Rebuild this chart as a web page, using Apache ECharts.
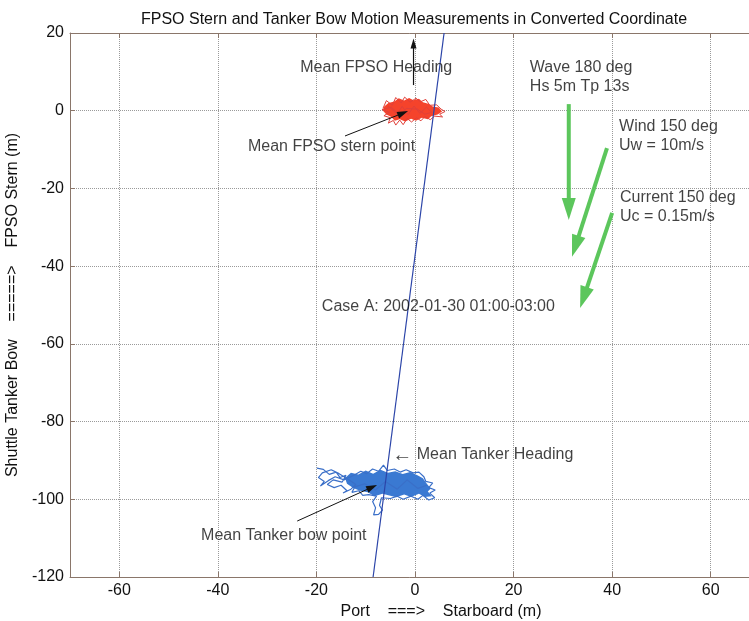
<!DOCTYPE html>
<html><head><meta charset="utf-8">
<script src="https://cdn.jsdelivr.net/npm/echarts@6/dist/echarts.min.js"></script>
<style>html,body{margin:0;padding:0;background:#fff}#c{width:749px;height:621px}</style>
</head><body><div id="c"></div>
<script>
// ---- data ----
const headingLineX = [-8.5, 5.9];
const headingLineY = [-120, 20];

const fpsoMean = [-1.4, -0.1];
const tankerMean = [-7.7, -96.3];

// dense core of FPSO stern trace (outline)
const fpsoCoreX = [-6.3,-5.4,-4.2,-3.3,-2.2,-1.2,-0.3,0.8,1.6,2.7,3.6,4.8,5.5,4.6,3.3,2.6,1.4,0.2,-0.8,-2.0,-3.1,-4.1,-4.8,-5.8,-6.5];
const fpsoCoreY = [1.0,2.0,2.4,3.2,2.6,3.3,2.7,3.1,2.2,1.8,1.1,0.8,-0.2,-1.0,-1.4,-2.2,-1.8,-2.6,-2.1,-2.8,-2.2,-2.6,-1.6,-1.0,0.0];
// FPSO stern trace (wandering path)
const fpsoTraceX = [-6.5,-5.8,-4.6,-3.9,-2.8,-2.1,-1.0,0.2,1.1,2.2,3.0,4.4,5.3,6.1,5.0,5.6,4.0,3.1,2.0,1.2,0.3,-0.7,-1.6,-2.4,-3.1,-3.9,-4.4,-5.4,-5.0,-6.3,-5.2,-6.7,-4.8,-3.5,-2.6,-1.4,-0.2,1.0,2.3,3.4,2.0,0.5,-1.8,-3.2,-4.5,-5.5];
const fpsoTraceY = [0.6,2.6,1.4,3.4,2.0,3.5,2.2,3.2,2.3,2.9,1.4,1.5,0.4,-0.2,-0.9,-1.6,-1.4,-2.3,-1.5,-2.6,-1.8,-2.9,-2.0,-3.6,-2.4,-3.7,-2.5,-3.2,-1.8,-1.3,-0.4,0.3,0.9,-0.6,1.1,-1.0,1.2,-0.7,0.9,-0.4,-0.9,0.4,0.6,-1.5,0.2,1.2];

// dense core of tanker bow trace (outline)
const tankerCoreX = [-14.2,-13.0,-11.5,-10.0,-8.5,-7.0,-5.5,-4.0,-2.5,-1.0,0.5,1.6,2.4,3.2,2.6,3.4,2.0,0.8,-0.8,-2.2,-3.8,-5.2,-6.6,-8.2,-9.6,-11.2,-12.6,-13.8];
const tankerCoreY = [-94.5,-93.2,-93.6,-92.6,-93.4,-92.4,-93.2,-92.8,-93.5,-93.0,-93.8,-94.6,-96.0,-97.2,-98.0,-99.2,-99.4,-98.6,-99.4,-98.8,-99.5,-99.0,-98.6,-99.2,-98.2,-97.8,-97.0,-96.0];
// tanker bow trace (wandering path)
const tankerTraceX = [-19.9,-18.6,-17.4,-16.0,-15.2,-14.0,-14.8,-16.6,-17.8,-16.4,-15.0,-13.8,-14.6,-13.0,-12.0,-13.4,-15.4,-17.0,-18.8,-19.6,-18.4,-19.2,-17.6,-16.2,-14.4,-12.4,-11.0,-9.8,-8.6,-7.4,-6.4,-5.6,-4.2,-3.0,-1.8,-0.4,0.8,1.8,2.2,3.6,2.8,4.1,3.0,4.0,2.8,1.6,0.6,-0.8,-2.4,-3.6,-5.0,-6.8,-7.2,-6.6,-7.4,-8.4,-8.0,-8.6,-7.8,-9.4,-10.6,-11.4,-12.8,-12.2,-10.2,-8.0,-6.0,-3.6,-1.6,0.6,2.4];
const tankerTraceY = [-92.0,-92.3,-93.6,-93.0,-94.4,-93.8,-95.6,-95.0,-96.2,-97.0,-96.4,-97.8,-98.4,-97.4,-96.2,-95.0,-93.4,-92.4,-93.2,-94.4,-95.4,-96.6,-95.2,-94.2,-95.0,-93.8,-92.8,-93.4,-92.2,-92.8,-91.2,-92.6,-92.2,-93.0,-92.4,-93.2,-93.0,-94.2,-95.4,-95.8,-97.0,-97.6,-98.4,-99.6,-100.2,-99.0,-100.0,-99.2,-100.0,-99.2,-99.8,-99.6,-101.6,-102.8,-103.9,-104.0,-102.2,-100.6,-99.2,-98.8,-99.0,-97.8,-98.2,-96.8,-96.0,-97.6,-95.4,-97.4,-95.0,-97.2,-96.4];

// heading arrow of FPSO [x0, y0, xTip, yTip]
const fpsoHeadingArrow = [-0.3, 6.6, -0.3, 18.6];

// environment arrows: [x0, y0, xTip, yTip]
const waveArrow = [31.2, 1.7, 31.2, -28.1];
const windArrow = [38.95, -9.6, 31.85, -37.6];
const currentArrow = [40.0, -26.3, 33.5, -50.8];

// annotation pointers start (near text) -> mean points
const fpsoPointerStart = [-14.2, -6.5];
const tankerPointerStart = [-23.9, -105.6];
</script>
<script>
const FONT = 'Liberation Sans, Arial, sans-serif';
const chart = echarts.init(document.getElementById('c'), null, {renderer: 'canvas'});

const pairs = (xs, ys) => xs.map((x, i) => [x, ys[i]]);
function poly(xs, ys, color) {
  return {
    type: 'custom', coordinateSystem: 'cartesian2d', silent: true, z: 2,
    data: [[xs[0], ys[0]]],
    renderItem: (params, api) => ({
      type: 'polygon',
      shape: {points: xs.map((x, i) => api.coord([x, ys[i]]))},
      style: {fill: color}
    })
  };
}
function trace(xs, ys, color, w) {
  return {type: 'line', data: pairs(xs, ys), showSymbol: false, symbol: 'none', silent: true, z: 3,
    lineStyle: {color: color, width: w}, animation: false};
}
function arrows(list, color, width, headW, headL) {
  return {
    type: 'custom', coordinateSystem: 'cartesian2d', silent: true, z: 5,
    dimensions: ['x0', 'y0', 'x1', 'y1'], encode: {x: [0, 2], y: [1, 3]},
    data: list,
    renderItem: (params, api) => {
      const p0 = api.coord([api.value(0), api.value(1)]);
      const p1 = api.coord([api.value(2), api.value(3)]);
      const dx = p1[0] - p0[0], dy = p1[1] - p0[1], L = Math.hypot(dx, dy);
      const ux = dx / L, uy = dy / L;
      const bx = p1[0] - ux * headL, by = p1[1] - uy * headL;
      const hw = headW / 2;
      return {type: 'group', children: [
        {type: 'line', shape: {x1: p0[0], y1: p0[1], x2: bx + ux, y2: by + uy},
          style: {stroke: color, lineWidth: width}},
        {type: 'polygon', shape: {points: [[p1[0], p1[1]], [bx - uy * hw, by + ux * hw], [bx + uy * hw, by - ux * hw]]},
          style: {fill: color}}
      ]};
    }
  };
}

const labels = [
  {value: [-23.3, 11.0], name: 'Mean FPSO Heading'},
  {value: [-33.9, -9.3], name: 'Mean FPSO stern point'},
  {value: [-43.4, -109.4], name: 'Mean Tanker bow point'},
  {value: [-4.6, -88.6], name: '{a|\u2190} Mean Tanker Heading'},
  {value: [-18.9, -50.3], name: 'Case A: 2002-01-30 01:00-03:00'},
  {value: [23.3, 8.55], name: 'Wave 180 deg\nHs 5m Tp 13s'},
  {value: [41.4, -6.5], name: 'Wind 150 deg\nUw = 10m/s'},
  {value: [41.6, -24.9], name: 'Current 150 deg\nUc = 0.15m/s'}
];

const axisColor = '#8a766a';
const option = {
  animation: false,
  backgroundColor: '#ffffff',
  title: {
    text: 'FPSO Stern and Tanker Bow Motion Measurements in Converted Coordinate',
    left: 409, top: 7, textAlign: 'center',
    textStyle: {fontFamily: FONT, fontSize: 16, fontWeight: 'normal', color: '#111'}
  },
  grid: {left: 70, top: 33, width: 690, height: 544, containLabel: false, outerBoundsMode: 'none'},
  xAxis: [{
    type: 'value', min: -70, max: 70, minInterval: 20, maxInterval: 20, splitNumber: 7,
    name: 'Port    ===>    Starboard (m)', nameLocation: 'middle', nameGap: 27,
    nameTextStyle: {fontFamily: FONT, fontSize: 16, color: '#111', padding: [0, 0, 0, 52]},
    axisLine: {show: true, onZero: false, lineStyle: {color: axisColor, width: 1}},
    axisTick: {show: true, inside: true, length: 5, lineStyle: {color: axisColor}},
    axisLabel: {fontFamily: FONT, fontSize: 16, color: '#111', margin: 6, showMinLabel: false, showMaxLabel: false},
    splitLine: {show: true, lineStyle: {type: 'dotted', color: '#9a9a9a', width: 1}}
  }, {
    type: 'value', position: 'top', min: -70, max: 70, minInterval: 20, maxInterval: 20, splitNumber: 7,
    axisLine: {show: true, onZero: false, lineStyle: {color: axisColor, width: 1}},
    axisTick: {show: true, inside: true, length: 5, lineStyle: {color: axisColor}},
    axisLabel: {show: false}, splitLine: {show: false}
  }],
  yAxis: [{
    type: 'value', min: -120, max: 20, interval: 20,
    name: 'Shuttle Tanker Bow    =====>    FPSO Stern (m)', nameLocation: 'middle', nameGap: 48,
    nameTextStyle: {fontFamily: FONT, fontSize: 16, color: '#111'},
    axisLine: {show: true, onZero: false, lineStyle: {color: axisColor, width: 1}},
    axisTick: {show: true, inside: true, length: 5, lineStyle: {color: axisColor}},
    axisLabel: {fontFamily: FONT, fontSize: 16, color: '#111', margin: 6},
    splitLine: {show: true, lineStyle: {type: 'dotted', color: '#9a9a9a', width: 1}}
  }],
  series: [
    poly(fpsoCoreX, fpsoCoreY, '#f5432b'),
    trace(fpsoTraceX, fpsoTraceY, '#e0403a', 1),
    poly(tankerCoreX, tankerCoreY, '#3a79d2'),
    trace(tankerTraceX, tankerTraceY, '#3a6fc8', 1.2),
    {type: 'line', data: pairs(headingLineX, headingLineY), showSymbol: false, symbol: 'none', silent: true, z: 4,
      lineStyle: {color: '#2b44a8', width: 1.2}},
    arrows([fpsoHeadingArrow], '#111111', 1.2, 6, 10),
    arrows([[fpsoPointerStart[0], fpsoPointerStart[1], fpsoMean[0], fpsoMean[1]],
            [tankerPointerStart[0], tankerPointerStart[1], tankerMean[0], tankerMean[1]]], '#111111', 1, 7, 11),
    arrows([waveArrow, windArrow, currentArrow], '#5cc65c', 4, 14, 22),
    {type: 'scatter', data: labels, symbolSize: 0, silent: true, z: 6,
      label: {show: true, position: 'right', distance: 0, formatter: '{b}', fontFamily: FONT, fontSize: 16,
        color: '#111', lineHeight: 19, align: 'left',
        rich: {a: {fontFamily: FONT, fontSize: 20, color: '#111', lineHeight: 19}}}}
  ]
};
chart.setOption(option);
</script>
</body></html>
